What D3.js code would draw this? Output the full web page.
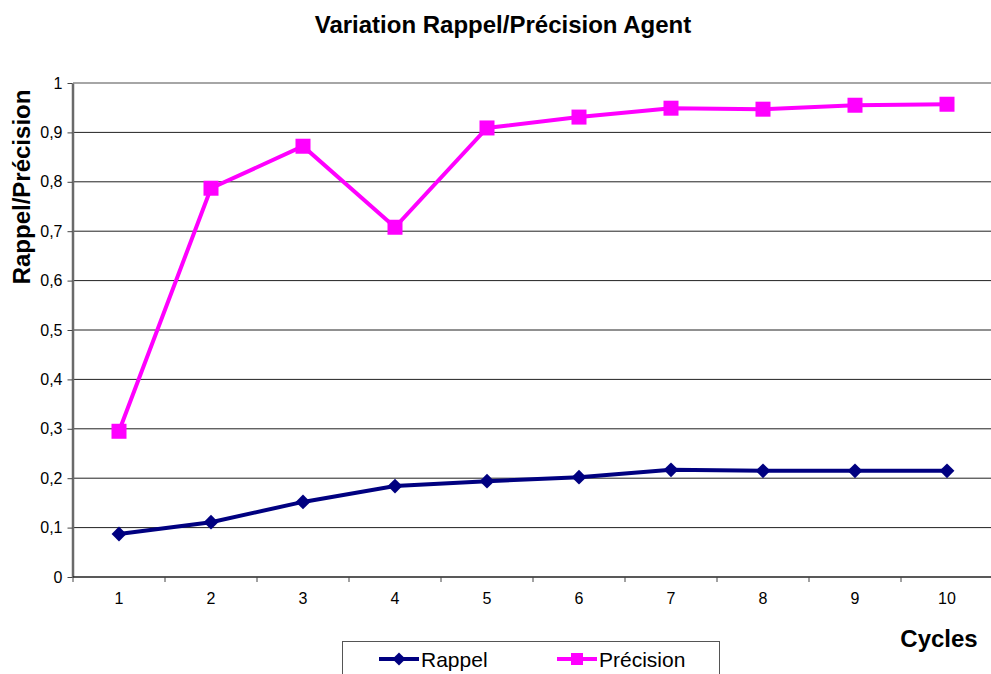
<!DOCTYPE html>
<html>
<head>
<meta charset="utf-8">
<script src="https://cdn.jsdelivr.net/npm/d3@7"></script>
<style>
  body { margin: 0; background: #fff; }
  svg { font-family: "Liberation Sans", Arial, sans-serif; }
</style>
</head>
<body>
<svg width="991" height="674"></svg>
<script>
var cycles = [1, 2, 3, 4, 5, 6, 7, 8, 9, 10];
var rappel = [0.087, 0.111, 0.152, 0.184, 0.194, 0.202, 0.217, 0.215, 0.215, 0.215];
var precision = [0.295, 0.787, 0.872, 0.708, 0.909, 0.931, 0.949, 0.947, 0.955, 0.957];
var yTicks = [0, 0.1, 0.2, 0.3, 0.4, 0.5, 0.6, 0.7, 0.8, 0.9, 1];

var L = 73, R = 993, T = 83, B = 577;
var svg = d3.select('svg');

var x = d3.scaleBand().domain(cycles).range([L, R]);
var y = d3.scaleLinear().domain([0, 1]).range([B, T]);
var fmt = function (d) { return String(d).replace('.', ','); };

// gridlines
svg.append('g').selectAll('line')
    .data(yTicks.slice(1))
    .enter().append('line')
    .attr('x1', L).attr('x2', R)
    .attr('y1', function (d) { return y(d); })
    .attr('y2', function (d) { return y(d); })
    .attr('stroke', function (d) { return d === 1 ? '#888' : '#222'; })
    .attr('stroke-width', function (d) { return d === 1 ? 1.5 : 1; });

var yAxis = d3.axisLeft(y).tickValues(yTicks).tickFormat(fmt).tickSize(5).tickSizeOuter(0).tickPadding(5);
var gy = svg.append('g').attr('transform', 'translate(' + (L - 0.5) + ',0)').call(yAxis);
gy.attr('font-family', null).attr('font-size', null);
gy.select('.domain').attr('stroke', '#6a6a6a').attr('stroke-width', 2.5);
gy.selectAll('.tick line').attr('stroke', '#444');
gy.selectAll('text').attr('font-size', 16).attr('fill', '#000');

var gx = svg.append('g').attr('transform', 'translate(0,' + B + ')');
gx.append('line').attr('x1', L).attr('x2', R).attr('y1', 0).attr('y2', 0)
    .attr('stroke', '#222').attr('stroke-width', 1.5);
gx.selectAll('line.tk')
    .data(d3.range(cycles.length + 1))
    .enter().append('line')
    .attr('class', 'tk')
    .attr('x1', function (i) { return L + i * x.step(); })
    .attr('x2', function (i) { return L + i * x.step(); })
    .attr('y1', 0).attr('y2', 5)
    .attr('stroke', '#444');
gx.selectAll('text')
    .data(cycles)
    .enter().append('text')
    .attr('x', function (d) { return x(d) + x.bandwidth() / 2; })
    .attr('y', 27)
    .attr('text-anchor', 'middle')
    .attr('font-size', 16)
    .text(function (d) { return d; });

var cx = function (d, i) { return x(cycles[i]) + x.bandwidth() / 2; };
var line = d3.line().x(cx).y(function (d) { return y(d); });

svg.append('path').datum(rappel)
    .attr('d', line).attr('fill', 'none')
    .attr('stroke', '#000080').attr('stroke-width', 4);
svg.append('path').datum(precision)
    .attr('d', line).attr('fill', 'none')
    .attr('stroke', '#FF00FF').attr('stroke-width', 4);

var diamond = d3.symbol().type(d3.symbolDiamond2).size(140);
svg.append('g').selectAll('path')
    .data(rappel).enter().append('path')
    .attr('d', diamond)
    .attr('transform', function (d, i) { return 'translate(' + cx(d, i) + ',' + y(d) + ')'; })
    .attr('fill', '#000080');

svg.append('g').selectAll('rect')
    .data(precision).enter().append('rect')
    .attr('x', function (d, i) { return cx(d, i) - 7.5; })
    .attr('y', function (d) { return y(d) - 7.5; })
    .attr('width', 15).attr('height', 15)
    .attr('fill', '#FF00FF');

// titles
svg.append('text').attr('x', 503).attr('y', 33)
    .attr('text-anchor', 'middle').attr('font-size', 24).attr('font-weight', 'bold')
    .text('Variation Rappel/Précision Agent');
svg.append('text')
    .attr('transform', 'translate(30,187) rotate(-90)')
    .attr('text-anchor', 'middle').attr('font-size', 24).attr('font-weight', 'bold')
    .text('Rappel/Précision');
svg.append('text').attr('x', 939).attr('y', 647)
    .attr('text-anchor', 'middle').attr('font-size', 24).attr('font-weight', 'bold')
    .text('Cycles');

// legend
var lg = svg.append('g');
lg.append('rect').attr('x', 342.5).attr('y', 641.5).attr('width', 377).attr('height', 60)
    .attr('fill', '#fff').attr('stroke', '#555').attr('stroke-width', 1);
var items = [
    { name: 'Rappel', color: '#000080', x: 379, marker: 'diamond' },
    { name: 'Précision', color: '#FF00FF', x: 557, marker: 'square' }
];
items.forEach(function (it) {
    lg.append('line').attr('x1', it.x).attr('x2', it.x + 40).attr('y1', 659).attr('y2', 659)
        .attr('stroke', it.color).attr('stroke-width', 4);
    if (it.marker === 'diamond') {
        lg.append('path').attr('d', d3.symbol().type(d3.symbolDiamond2).size(110))
            .attr('transform', 'translate(' + (it.x + 20) + ',659)').attr('fill', it.color);
    } else {
        lg.append('rect').attr('x', it.x + 14).attr('y', 653).attr('width', 12).attr('height', 12)
            .attr('fill', it.color);
    }
    lg.append('text').attr('x', it.x + 42).attr('y', 667).attr('font-size', 21).text(it.name);
});
</script>
</body>
</html>
